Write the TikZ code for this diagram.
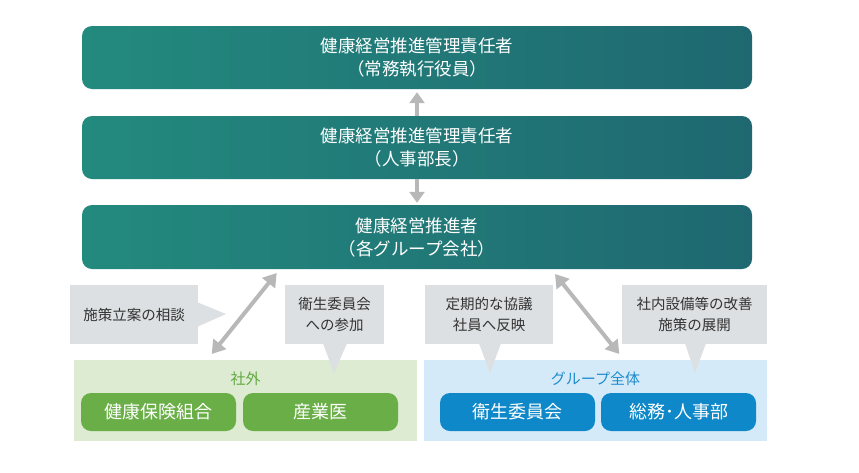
\documentclass[tikz,border=0pt]{standalone}
\usepackage{fontspec}
\setmainfont{Noto Sans CJK JP}
\usetikzlibrary{arrows.meta}
\definecolor{tealL}{RGB}{35,138,126}
\definecolor{tealR}{RGB}{31,104,113}
\definecolor{arrgray}{RGB}{184,184,184}
\definecolor{callfill}{RGB}{221,224,226}
\definecolor{calltext}{RGB}{51,51,51}
\definecolor{greenbg}{RGB}{220,235,210}
\definecolor{greenbox}{RGB}{106,174,71}
\definecolor{greentext}{RGB}{98,168,64}
\definecolor{bluebg}{RGB}{213,234,248}
\definecolor{bluebox}{RGB}{14,136,200}
\definecolor{bluetext}{RGB}{30,140,204}
\tikzset{
  mainbox/.style={rounded corners=10pt, left color=tealL, right color=tealR,
    minimum width=670pt, minimum height=63pt, inner sep=0pt, text=white, align=center,
    font={\fontsize{17.5}{23}\selectfont}},
  region/.style={minimum width=343pt, minimum height=81pt, inner sep=0pt},
  subbox/.style={rounded corners=10pt, minimum width=155pt, minimum height=38pt,
    inner sep=0pt, text=white, font={\fontsize{18}{22}\selectfont}},
  callout/.style={fill=callfill, inner sep=0pt, text=calltext, align=center,
    minimum height=59pt, font={\fontsize{14.5}{21}\selectfont}},
  vlink/.style={draw=arrgray, line width=4pt, -{Triangle[length=11pt,width=15pt]}},
  dlink/.style={draw=arrgray, line width=4pt,
    {Triangle[length=13pt,width=16pt]}-{Triangle[length=13pt,width=16pt]}},
  grouplabel/.style={inner sep=0pt, font={\fontsize{15}{18}\selectfont}}
}
\begin{document}
\begin{tikzpicture}[x=1pt,y=-1pt]
\useasboundingbox (0,0) rectangle (859,472);
% main boxes
\node[mainbox] (b1) at (417,57.5) {健康経営推進管理責任者\\（常務執行役員）};
\node[mainbox] (b2) at (417,147.5) {健康経営推進管理責任者\\（人事部長）};
\node[mainbox, minimum height=64pt] (b3) at (417,237) {健康経営推進者\\（各グループ会社）};
\draw[vlink] (b2.north) -- ([yshift=-3pt]b1.south);
\draw[vlink] (b2.south) -- ([yshift=2pt]b3.north);
% regions
\node[region, fill=greenbg] (gr) at (245.5,400.5) {};
\node[region, fill=bluebg] (br) at (595.5,400.5) {};
\node[grouplabel, text=greentext] (grl) at (245.5,379) {社外};
\node[grouplabel, text=bluetext] (brl) at (595.5,379) {グループ全体};
\node[subbox, fill=greenbox] (g1) at (158.5,412) {健康保険組合};
\node[subbox, fill=greenbox] (g2) at (320.5,412) {産業医};
\node[subbox, fill=bluebox] (u1) at (517.5,412) {衛生委員会};
\node[subbox, fill=bluebox] (u2) at (678.5,412) {総務･人事部};
% callouts
\node[callout, minimum width=128pt] (c1) at (134,314.5) {施策立案の相談};
\fill[callfill] (198,302.5) -- (226,314) -- (198,326.5) -- cycle;
\node[callout, minimum width=99pt] (c2) at (334.5,314.5) {衛生委員会\\への参加};
\fill[callfill] (323,343.5) -- (334,373) -- (347,343.5) -- cycle;
\node[callout, minimum width=128pt] (c3) at (489,314.5) {定期的な協議\\社員へ反映};
\fill[callfill] (479,343.5) -- (490,373) -- (501,343.5) -- cycle;
\node[callout, minimum width=145pt] (c4) at (694.5,314.5) {社内設備等の改善\\施策の展開};
\fill[callfill] (685,343.5) -- (695,373) -- (706,343.5) -- cycle;
% diagonal links
\coordinate (d1a) at (276.7,273);
\coordinate (d1b) at (211.7,354);
\coordinate (d2a) at (555,274);
\coordinate (d2b) at (619.3,354);
\draw[dlink] (d1a) -- (d1b);
\draw[dlink] (d2a) -- (d2b);
\end{tikzpicture}
\end{document}
